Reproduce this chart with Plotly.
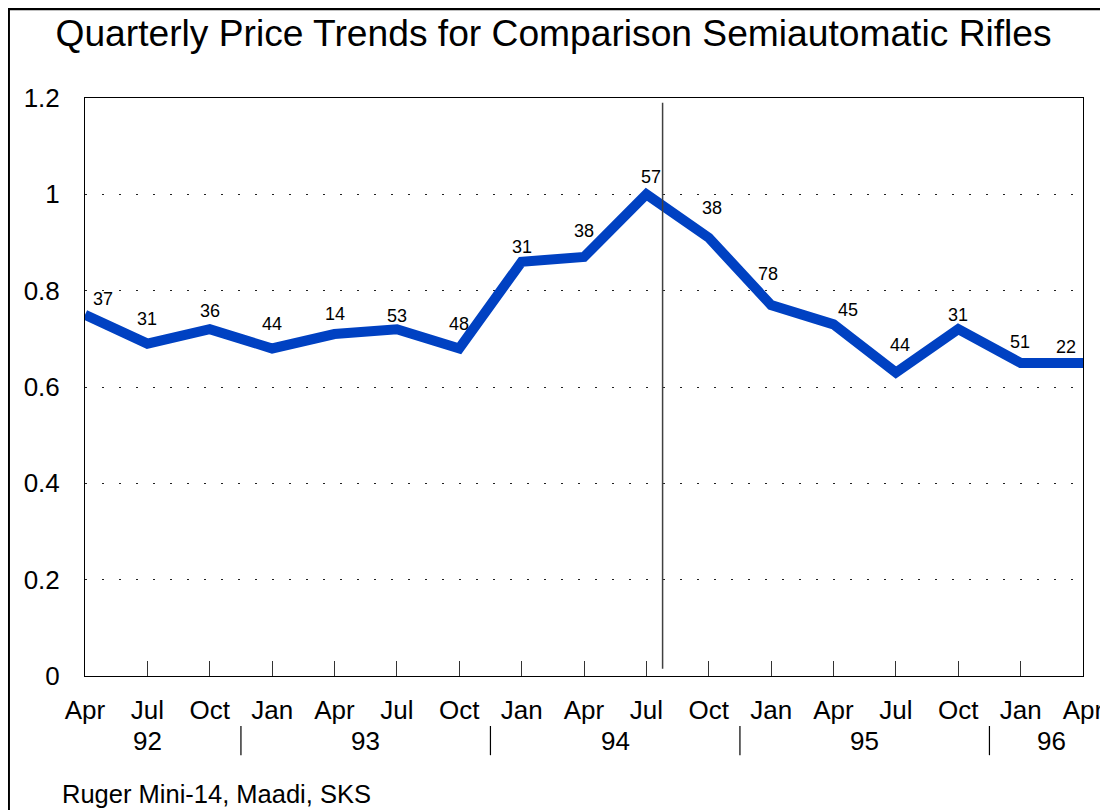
import plotly.graph_objects as go

# ---- data ----
months = ["Apr", "Jul", "Oct", "Jan", "Apr", "Jul", "Oct", "Jan", "Apr", "Jul",
          "Oct", "Jan", "Apr", "Jul", "Oct", "Jan", "Apr"]
price_index = [0.75, 0.69, 0.72, 0.68, 0.71, 0.72, 0.68, 0.86, 0.87, 1.00,
               0.91, 0.77, 0.73, 0.63, 0.72, 0.65, 0.65]
sample_sizes = ["37", "31", "36", "44", "14", "53", "48", "31", "38", "57",
                "38", "78", "45", "44", "31", "51", "22"]
years = ["92", "93", "94", "95", "96"]
year_centers = [1, 4.5, 8.5, 12.5, 15.5]
year_breaks = [2.5, 6.5, 10.5, 14.5]
ban_x = 9.26  # Sept 1994

# ---- label placement (style) ----
lab_dx = [18, 0, 0, 0, 0, 0, 0, 0, 0, 5, 3, -3, 14, 4, 0, -1, -17]
lab_dy = [16, 25, 18, 24, 20, 13, 24, 15, 26, 17, 30, 31, 14, 28, 14, 21, 16]

FONT = "Arial, Liberation Sans, sans-serif"
x = list(range(len(months)))

fig = go.Figure()
fig.add_trace(go.Scatter(
    x=x, y=price_index, mode="lines",
    line=dict(color="#0041C2", width=10), hoverinfo="skip", showlegend=False,
))

for xi, yi, t, dx, dy in zip(x, price_index, sample_sizes, lab_dx, lab_dy):
    fig.add_annotation(x=xi, y=yi, text=t, showarrow=False, xshift=dx, yshift=dy,
                       font=dict(family=FONT, size=18, color="black"))

# September 1994 marker line
fig.add_shape(type="line", xref="x", yref="y", x0=ban_x, x1=ban_x, y0=0.015, y1=1.19,
              line=dict(color="#404040", width=1.5))

# year separators and labels
for b in year_breaks:
    fig.add_shape(type="line", xref="x", yref="paper", x0=b, x1=b, y0=-0.0865, y1=-0.137,
                  line=dict(color="black", width=1.2))
for yc, yl in zip(year_centers, years):
    fig.add_annotation(x=yc, y=-0.1125, xref="x", yref="paper", text=yl, showarrow=False,
                       yanchor="middle", font=dict(family=FONT, size=26, color="black"))

fig.add_annotation(x=-0.025, y=-0.204, xref="paper", yref="paper", xanchor="left", yanchor="middle",
                   text="Ruger Mini-14, Maadi, SKS", showarrow=False,
                   font=dict(family=FONT, size=25.5, color="black"))

# outer frame (left and top edges visible)
fig.add_shape(type="line", xref="paper", yref="paper", x0=-0.0762, x1=-0.0762, y0=-0.4, y1=1.16,
              line=dict(color="black", width=2))
fig.add_shape(type="line", xref="paper", yref="paper", x0=-0.0772, x1=1.05, y0=1.1540, y1=1.1540,
              line=dict(color="black", width=2.5))

fig.update_layout(
    width=1100, height=802,
    margin=dict(l=77, r=25, t=90, b=134),
    paper_bgcolor="white", plot_bgcolor="white",
    font=dict(family=FONT, color="black"),
    title=dict(text="Quarterly Price Trends for Comparison Semiautomatic Rifles",
               x=0.4695, xref="paper", xanchor="center", y=0.9688, yref="container",
               yanchor="middle", font=dict(family=FONT, size=37.2, color="black")),
    xaxis=dict(range=[0, 16], tickvals=x, ticktext=months, ticks="inside", ticklen=15,
               tickcolor="#333333", showgrid=False, zeroline=False, showline=True,
               linecolor="black", linewidth=1, mirror=True, automargin=False,
               tickfont=dict(family=FONT, size=26, color="black"), ticklabelstandoff=11),
    yaxis=dict(range=[0, 1.2], tickvals=[0, 0.2, 0.4, 0.6, 0.8, 1.0, 1.2],
               ticktext=["0", "0.2", "0.4", "0.6", "0.8", "1", "1.2"],
               showgrid=True, gridcolor="#222222", gridwidth=1, griddash="2px,15px",
               zeroline=False, showline=True, linecolor="black", linewidth=1, mirror=True,
               automargin=False, ticks="", tickfont=dict(family=FONT, size=26, color="black"),
               ticklabelstandoff=19),
)

fig.write_html("out.html")
